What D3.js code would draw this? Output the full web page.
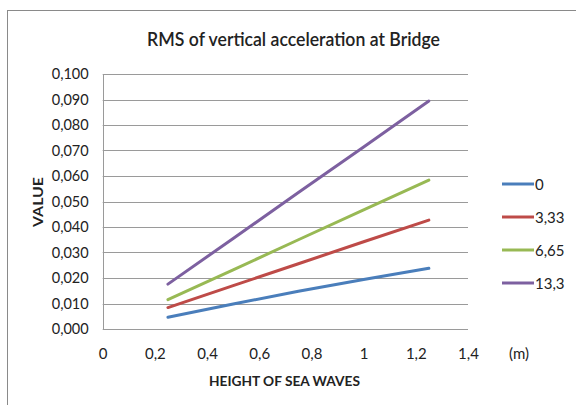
<!DOCTYPE html>
<html>
<head>
<meta charset="utf-8">
<script src="https://cdn.jsdelivr.net/npm/d3@7"></script>
<style>
  html, body { margin: 0; padding: 0; background: #fff; }
  svg { display: block; }
  text { font-family: Lato, "Open Sans", sans-serif; fill: #222; }
</style>
</head>
<body>
<svg id="chart" width="576" height="405"></svg>
<script>
// Wave heights (m)
const heights = [0.25, 0.5, 0.75, 1.0, 1.25];
// Series names shown in the legend
const seriesNames = ["0", "3,33", "6,65", "13,3"];
// RMS vertical acceleration per series
const s0    = [0.0046, 0.0098, 0.0148, 0.0194, 0.0238];
const s333  = [0.0084, 0.0170, 0.0256, 0.0342, 0.0427];
const s665  = [0.0115, 0.0232, 0.0350, 0.0467, 0.0584];
const s133  = [0.0176, 0.0355, 0.0535, 0.0714, 0.0894];
const seriesValues = [s0, s333, s665, s133];
const colors = ["#4A7EBB", "#BE4B48", "#98B954", "#7D60A0"];
// Axis ticks
const xTicks = [0, 0.2, 0.4, 0.6, 0.8, 1, 1.2, 1.4];
const yTicks = [0, 0.01, 0.02, 0.03, 0.04, 0.05, 0.06, 0.07, 0.08, 0.09, 0.1];

const svg = d3.select("#chart");
const fmtX = v => String(v).replace(".", ",");
const fmtY = v => d3.format(".3f")(v).replace(".", ",");

// chart frame
svg.append("rect")
  .attr("x", 7.5).attr("y", 10.5)
  .attr("width", 600).attr("height", 420)
  .attr("fill", "none").attr("stroke", "#8a8a8a").attr("stroke-width", 1);

const plot = { left: 102.7, right: 468, top: 74, bottom: 329 };
const x = d3.scaleLinear().domain([0, 1.4]).range([plot.left, plot.right]);
const y = d3.scaleLinear().domain([0, 0.1]).range([plot.bottom, plot.top]);

// horizontal gridlines
svg.append("g").selectAll("line").data(yTicks).join("line")
  .attr("x1", plot.left).attr("x2", plot.right)
  .attr("y1", d => Math.round(y(d)) + 0.5).attr("y2", d => Math.round(y(d)) + 0.5)
  .attr("stroke", "#9a9a9a").attr("stroke-width", 1);

// vertical axis line
svg.append("line")
  .attr("x1", Math.round(plot.left) + 0.5).attr("x2", Math.round(plot.left) + 0.5)
  .attr("y1", plot.top).attr("y2", plot.bottom)
  .attr("stroke", "#9a9a9a");

// y tick labels
const yAxis = d3.axisLeft(y).tickValues(yTicks).tickFormat(fmtY).tickSize(0).tickPadding(14);
const gy = svg.append("g").attr("transform", `translate(${plot.left},0)`).call(yAxis);
gy.select(".domain").remove();
gy.selectAll("text").style("font-size", "14.5px").attr("fill", "#222")
  .style("font-family", "Lato, sans-serif");

// x tick labels
const xAxis = d3.axisBottom(x).tickValues(xTicks).tickFormat(fmtX).tickSize(0).tickPadding(19);
const gx = svg.append("g").attr("transform", `translate(0,${plot.bottom})`).call(xAxis);
gx.select(".domain").remove();
gx.selectAll("text").style("font-size", "15px").attr("fill", "#222")
  .style("font-family", "Lato, sans-serif");

// unit label after the last tick
svg.append("text").attr("x", 519).attr("y", 359).attr("text-anchor", "middle")
  .style("font-size", "15px").text("(m)");

// series lines
const line = d3.line().x((d, i) => x(heights[i])).y(d => y(d));
svg.append("g").selectAll("path").data(seriesValues).join("path")
  .attr("d", d => line(d))
  .attr("fill", "none")
  .attr("stroke", (d, i) => colors[i])
  .attr("stroke-width", 3)
  .attr("stroke-linecap", "round");

// title
svg.append("text").attr("x", 293.5).attr("y", 46).attr("text-anchor", "middle")
  .attr("textLength", 293).attr("lengthAdjust", "spacingAndGlyphs")
  .style("font-size", "19px").style("font-weight", "600").text("RMS of vertical acceleration at Bridge");

// axis titles
svg.append("text").attr("x", 284.5).attr("y", 386).attr("text-anchor", "middle")
  .attr("textLength", 151).attr("lengthAdjust", "spacingAndGlyphs")
  .style("font-size", "14px").style("font-weight", "bold").text("HEIGHT OF SEA WAVES");
svg.append("text").attr("transform", "translate(43,202) rotate(-90)").attr("text-anchor", "middle")
  .attr("textLength", 50).attr("lengthAdjust", "spacingAndGlyphs")
  .style("font-size", "14px").style("font-weight", "bold").text("VALUE");

// legend
const legendY = [184, 217, 250, 283];
const lg = svg.append("g").selectAll("g").data(seriesNames).join("g")
  .attr("transform", (d, i) => `translate(502,${legendY[i]})`);
lg.append("line").attr("x1", 0).attr("x2", 32).attr("y1", 0).attr("y2", 0)
  .attr("stroke", (d, i) => colors[i]).attr("stroke-width", 3);
lg.append("text").attr("x", 33).attr("y", 5.5).style("font-size", "15px").text(d => d);
</script>
</body>
</html>
